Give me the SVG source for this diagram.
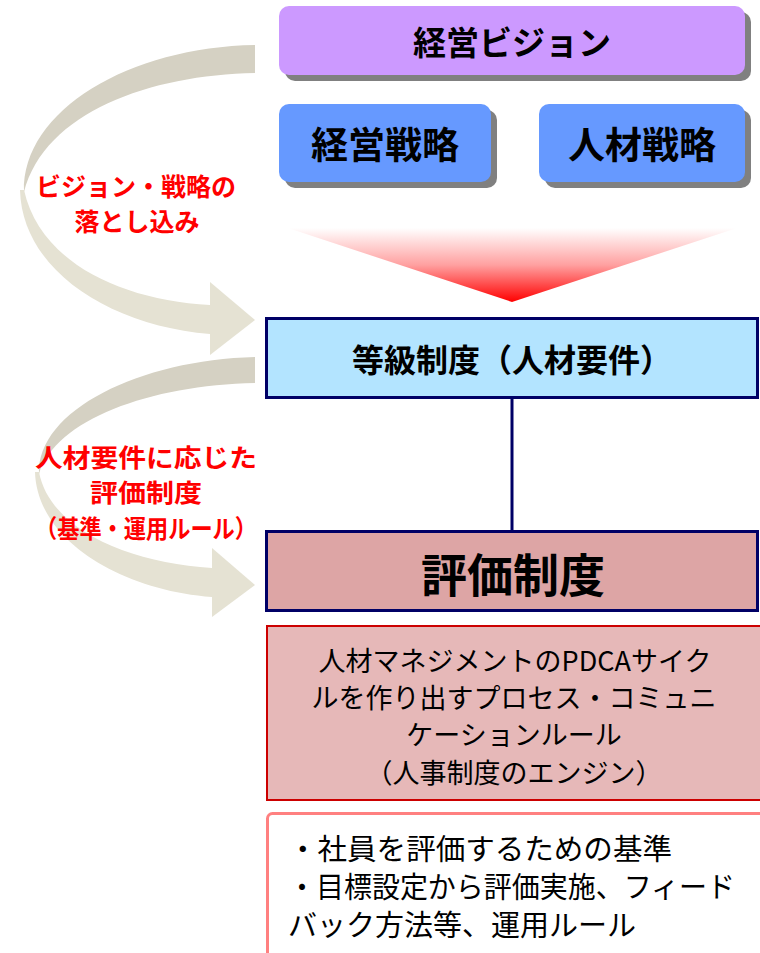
<svg xmlns="http://www.w3.org/2000/svg" width="760" height="953" viewBox="0 0 760 953">
<defs>
<linearGradient id="redfade" x1="0" y1="0" x2="0" y2="1">
<stop offset="0" stop-color="#FFFFFF"/>
<stop offset="0.5" stop-color="#FFA0A0"/>
<stop offset="1" stop-color="#FF0000"/>
</linearGradient>
<style>
.jp{font-family:"Noto Sans CJK JP","Noto Sans",sans-serif;}
.b{font-weight:bold;}
.lbl{font-family:"Noto Sans CJK JP",sans-serif;font-weight:bold;fill:#FF0000;text-anchor:middle;}
.shadow{fill:#808080;}
.bandA{fill:#D5D1C3;}
.bandB{fill:#E5E2D3;}
.navy{stroke:#000066;stroke-width:3;}
</style>
</defs>
<rect width="760" height="953" fill="#FFFFFF"/>

<g id="arrow1">
<path class="bandA" d="M255,45 L255,73 C150,75 45,112 24,192 C22,110 130,47 255,45 Z"/>
<path class="bandB" d="M20,190 C22,270 110,326 210,334 L210,305 C120,300 40,262 24,190 Z"/>
<polygon class="bandB" points="210,282 255,320 210,355"/>
</g>
<g id="arrow2">
<path class="bandA" d="M255,357 L255,383 C150,385 55,420 39,474 C37,410 140,360 255,357 Z"/>
<path class="bandB" d="M35,472 C37,540 120,590 212,597 L212,568 C130,563 50,530 39,472 Z"/>
<polygon class="bandB" points="212,548 255,585 212,617"/>
</g>

<g id="label1" font-size="25">
<text class="lbl" x="136" y="196">ビジョン・戦略の</text>
<text class="lbl" x="137" y="231">落とし込み</text>
</g>
<g id="label2" font-size="25">
<text class="lbl" x="146" y="467" textLength="222" lengthAdjust="spacingAndGlyphs">人材要件に応じた</text>
<text class="lbl" x="146" y="502" textLength="112" lengthAdjust="spacingAndGlyphs">評価制度</text>
<text class="lbl" x="146" y="538" textLength="222" lengthAdjust="spacingAndGlyphs">（基準・運用ルール）</text>
</g>

<g id="vision">
<rect class="shadow" x="285" y="12" width="466" height="69" rx="10"/>
<rect x="279" y="6" width="466" height="69" rx="10" fill="#CC99FF"/>
<text class="jp b" x="512" y="55" font-size="33" text-anchor="middle">経営ビジョン</text>
</g>
<g id="keiei-senryaku">
<rect class="shadow" x="285" y="110" width="212" height="78" rx="10"/>
<rect x="279" y="104" width="212" height="78" rx="10" fill="#6699FF"/>
<text class="jp b" x="385" y="159" font-size="37" text-anchor="middle">経営戦略</text>
</g>
<g id="jinzai-senryaku">
<rect class="shadow" x="545" y="110" width="206" height="78" rx="10"/>
<rect x="539" y="104" width="206" height="78" rx="10" fill="#6699FF"/>
<text class="jp b" x="642" y="159" font-size="37" text-anchor="middle">人材戦略</text>
</g>

<g id="funnel">
<polygon points="288,228 737,228 512,302" fill="url(#redfade)"/>
</g>

<g id="connectors">
<line class="navy" x1="512" y1="398" x2="512" y2="531"/>
</g>

<g id="tokyu">
<rect class="navy" x="266.5" y="318.5" width="491" height="79" fill="#B3E4FF"/>
<text class="jp b" x="512" y="372" font-size="32" text-anchor="middle">等級制度（人材要件）</text>
</g>
<g id="hyoka">
<rect class="navy" x="266.5" y="531.5" width="491" height="79" fill="#DDA5A5"/>
<text class="jp b" x="513" y="592" font-size="46" text-anchor="middle">評価制度</text>
</g>
<g id="engine">
<rect x="267" y="626" width="496" height="174" fill="#E6B8B8" stroke="#CC0000" stroke-width="2"/>
<g class="jp" font-size="27" text-anchor="middle">
<text x="515" y="671">人材マネジメントのPDCAサイク</text>
<text x="514" y="708">ルを作り出すプロセス・コミュニ</text>
<text x="514" y="745">ケーションルール</text>
<text x="514" y="783">（人事制度のエンジン）</text>
</g>
</g>
<g id="criteria">
<rect x="267.5" y="813.5" width="500" height="160" rx="5" fill="#FFFFFF" stroke="#FF8080" stroke-width="3"/>
<g class="jp" font-size="29">
<text x="288" y="860" textLength="384" lengthAdjust="spacingAndGlyphs">・社員を評価するための基準</text>
<text x="288" y="898" textLength="447" lengthAdjust="spacingAndGlyphs">・目標設定から評価実施、フィード</text>
<text x="288" y="936">バック方法等、運用ルール</text>
</g>
</g>
</svg>
